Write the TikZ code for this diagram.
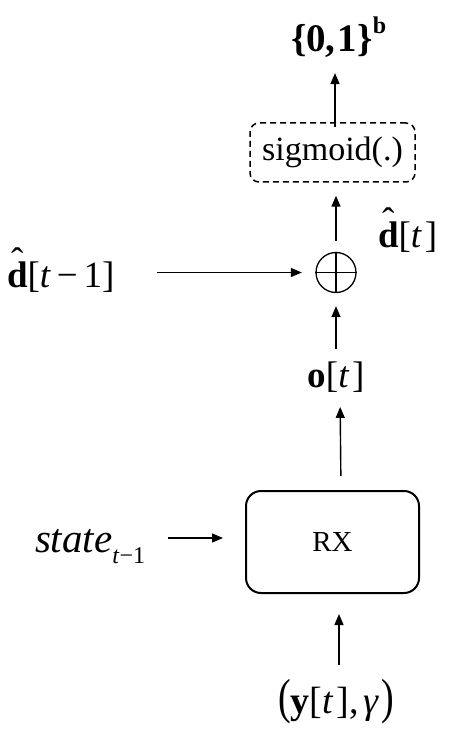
\documentclass[tikz,border=0pt]{standalone}
\usepackage{fontspec}
\setmainfont{Liberation Serif}
\usetikzlibrary{arrows.meta,calc}
\newcommand{\dhat}{\ooalign{\textbf{d}\cr\hidewidth\raisebox{0.36em}{\fontseries{m}\selectfont ˆ}\hidewidth\cr}}
\newcommand{\fs}[1]{\fontsize{#1}{#1}\selectfont}
\begin{document}
\begin{tikzpicture}[x=1pt,y=-1pt,
  lbl/.style={inner sep=0pt,outer sep=0pt,anchor=base,font=\fs{37}},
  arr/.style={line width=1.4pt,-{Triangle[length=11pt,width=9pt]}},
  boxstyle/.style={draw,line width=2pt,rounded corners=15pt,minimum width=173pt,minimum height=102pt,inner sep=0pt,font=\fs{29}},
  dashbox/.style={draw,line width=1.5pt,dash pattern=on 6pt off 4pt,rounded corners=9pt,minimum width=165pt,minimum height=59pt,inner sep=0pt,font=\fs{34}},
  sumnode/.style={draw,circle,line width=1.3pt,minimum size=40pt,inner sep=0pt}]
\useasboundingbox (0,0) rectangle (469,735);
% nodes
\node[lbl,anchor=base west,font=\fs{39}] (top) at (291,52) {\textbf{\{0,\hspace{0.06em}1\}}\raisebox{0.47em}{\fs{24}\textbf{b}}};
\node[dashbox] (sig) at (332.5,152.5) {sigmoid(.)};
\node[sumnode] (plus) at (336,272.5) {};
\draw[line width=1.3pt] (plus.north) -- (plus.south) (plus.west) -- (plus.east);
\node[lbl,anchor=base west] (dt) at (378,247) {\dhat[\textit{t}\hspace{0.08em}]};
\node[lbl,anchor=base west] (dtm) at (7,287) {\dhat[\textit{t}\hspace{0.16em}−\hspace{0.16em}1]};
\node[lbl] (olab) at (336,387) {\textbf{o}[\textit{t}\hspace{0.08em}]};
\node[boxstyle] (rx) at (332.5,542) {RX};
\coordinate (rxin) at ([yshift=4pt]rx.west);
\node[lbl,anchor=base west,font=\fs{41}] (state) at (35,552) {\textit{state}\raisebox{-0.28em}{\fs{24}\textit{t}−1}};
\node[lbl,font=\fs{38}] (ylab) at (336,713) {\scalebox{1}[1.3]{(}\textbf{y}[\textit{t}\hspace{0.08em}],\hspace{0.12em}\textit{γ}\hspace{0.04em}\scalebox{1}[1.3]{)}};
% connectors
\draw[arr,shorten <=-5pt,shorten >=15pt] ([xshift=2.5pt]sig.north) -- ([xshift=2.5pt]sig.north |- top.south);
\draw[arr,shorten <=11pt,shorten >=13pt] (plus.north) -- (plus.north |- sig.south);
\draw[arr,shorten <=43pt,shorten >=13.5pt] (dtm.east |- plus.west) -- (plus.west);
\draw[arr,shorten <=12pt,shorten >=13pt] (olab.north) -- (plus.south);
\draw[arr,shorten <=14pt,shorten >=15pt] ([xshift=8.5pt]rx.north) -- ([xshift=4pt]olab.south);
\draw[arr,shorten <=23pt,shorten >=22pt] (state.east |- rxin) -- (rxin);
\draw[arr,shorten <=14pt,shorten >=20pt] ([xshift=3pt]ylab.north) -- ([xshift=3pt]ylab.north |- rx.south);
\end{tikzpicture}
\end{document}
